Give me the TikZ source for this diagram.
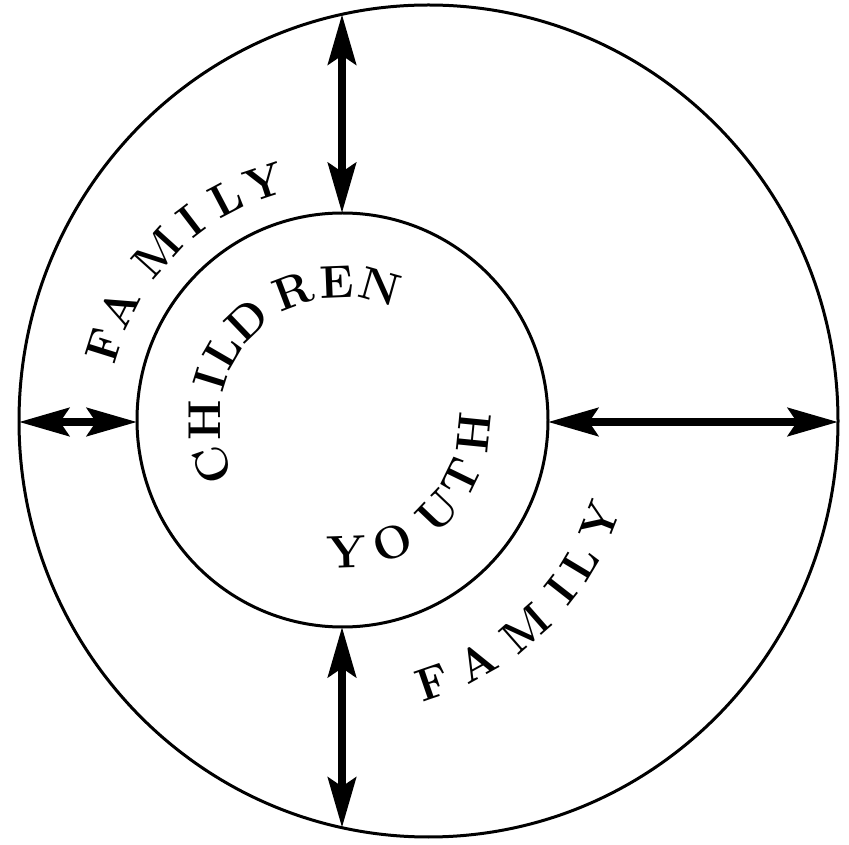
\documentclass[tikz,border=0pt]{standalone}
\usepackage{fontspec}
\usetikzlibrary{arrows.meta,calc}

\tikzset{
  ring/.style={line width=3pt},
  link/.style={line width=8pt,
    {Stealth[length=50pt,width=28pt,inset=9pt]}-{Stealth[length=50pt,width=28pt,inset=9pt]}},
  glyph/.style={inner sep=0pt, font=\fontsize{46}{56}\selectfont\bfseries}
}

\begin{document}
\begin{tikzpicture}[x=1pt,y=1pt]
  \useasboundingbox (0,0) rectangle (849,844);
  % centres of the two rings
  \coordinate (oc) at (428.5,423);
  \coordinate (ic) at (342.5,424);
  \draw[ring] (oc) ellipse [x radius=409.5, y radius=416];
  \draw[ring] (ic) ellipse [x radius=205.5, y radius=207];

  % ends of the arrows
  \coordinate (outerTop) at (342,829.6);
  \coordinate (innerTop) at (342,631);
  \coordinate (innerBot) at (342,217);
  \coordinate (outerBot) at (342,16.4);
  \coordinate (outerLeft) at (19,422);
  \coordinate (innerLeft) at (137,422);
  \coordinate (innerRight) at (548,422);
  \coordinate (outerRight) at (838,422);
  \draw[link] (outerTop) -- (innerTop);
  \draw[link] (innerBot) -- (outerBot);
  \draw[link] (outerLeft) -- (innerLeft);
  \draw[link] (innerRight) -- (outerRight);

  % letters along the arcs
  \foreach \ch/\a in {F/162.6, A/153.4, M/138.0, I/127.4, L/117.7, Y/108.3}
    \node[glyph, rotate=\a-90] (famUp\ch) at ($(ic)+(\a:250)$) {\ch};
  \foreach \ch/\a in {C/199.1, H/180.0, I/162.8, L/149.9, D/133.7, R/110.8, E/92.3, N/74.3}
    \node[glyph, rotate=\a-90] (kid\ch) at ($(ic)+(\a:138)$) {\ch};
  \foreach \ch/\a in {Y/-88.1, O/-67.7, U/-43.6, T/-25.9, H/-5.7}
    \node[glyph, rotate=\a+90] (youth\ch) at ($(ic)+(\a:132)$) {\ch};
  \foreach \ch/\a in {F/-71.0, A/-60.9, M/-48.7, I/-38.0, L/-31.0, Y/-21.6}
    \node[glyph, rotate=\a+90] (famLow\ch) at ($(ic)+(\a:277)$) {\ch};
\end{tikzpicture}
\end{document}
